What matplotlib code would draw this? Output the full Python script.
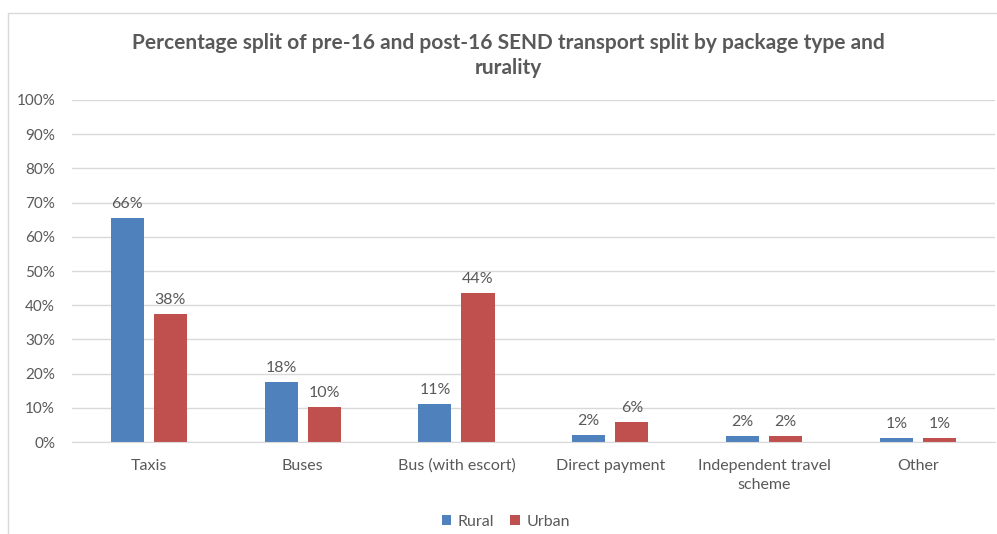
import matplotlib.pyplot as plt
import numpy as np
from matplotlib.patches import Rectangle

plt.rcParams['font.family'] = ['Lato', 'DejaVu Sans']

categories = ['Taxis', 'Buses', 'Bus (with escort)', 'Direct payment',
              'Independent travel\nscheme', 'Other']
rural = [65.6, 17.6, 11.2, 2.1, 1.7, 1.1]
urban = [37.5, 10.3, 43.6, 5.8, 1.7, 1.2]
rural_labels = ['66%', '18%', '11%', '2%', '2%', '1%']
urban_labels = ['38%', '10%', '44%', '6%', '2%', '1%']

blue = '#4f81bd'
red = '#c0504d'
grey = '#595959'

fig = plt.figure(figsize=(9.97, 5.34), dpi=100)
ax = fig.add_axes([0.072, 0.172, 0.926, 0.641])

# chart border like the excel chart area
fig.patches.append(Rectangle((0.008, -0.01), 1.1, 0.985, transform=fig.transFigure,
                             fill=False, edgecolor='#d9d9d9', lw=1.0))

x = np.arange(len(categories))
w = 0.215
off = 0.14
b1 = ax.bar(x - off, rural, w, color=blue, label='Rural')
b2 = ax.bar(x + off, urban, w, color=red, label='Urban')

for bars, labs in ((b1, rural_labels), (b2, urban_labels)):
    for b, t in zip(bars, labs):
        ax.annotate(t, (b.get_x() + b.get_width() / 2, b.get_height()),
                    xytext=(0, 5), textcoords='offset points', ha='center', va='bottom',
                    fontsize=11.5, color=grey)

ax.set_ylim(0, 100)
ax.set_xlim(-0.5, len(categories) - 0.5)
ax.set_yticks(range(0, 101, 10))
ax.set_yticklabels([f'{v}%' for v in range(0, 101, 10)])
ax.set_xticks(x)
ax.set_xticklabels(categories, linespacing=1.5)
ax.tick_params(axis='both', length=0, labelsize=11, colors=grey)
ax.tick_params(axis='x', pad=12, labelsize=11.5)
ax.tick_params(axis='y', pad=12)
ax.grid(axis='y', color='#d9d9d9', lw=1)
ax.set_axisbelow(True)
for s in ['top', 'right', 'left']:
    ax.spines[s].set_visible(False)
ax.spines['bottom'].set_color('#d9d9d9')

fig.suptitle('Percentage split of pre-16 and post-16 SEND transport split by package type and\nrurality',
             x=0.51, y=0.938, fontsize=15, fontweight='bold', color=grey, linespacing=1.3)

ax.legend(loc='lower center', bbox_to_anchor=(0.47, -0.295), ncol=2, frameon=False,
          fontsize=11.5, labelcolor=grey, handlelength=0.6, handleheight=0.6,
          handletextpad=0.4, columnspacing=1.0)

fig.savefig('out.png', dpi=100)
